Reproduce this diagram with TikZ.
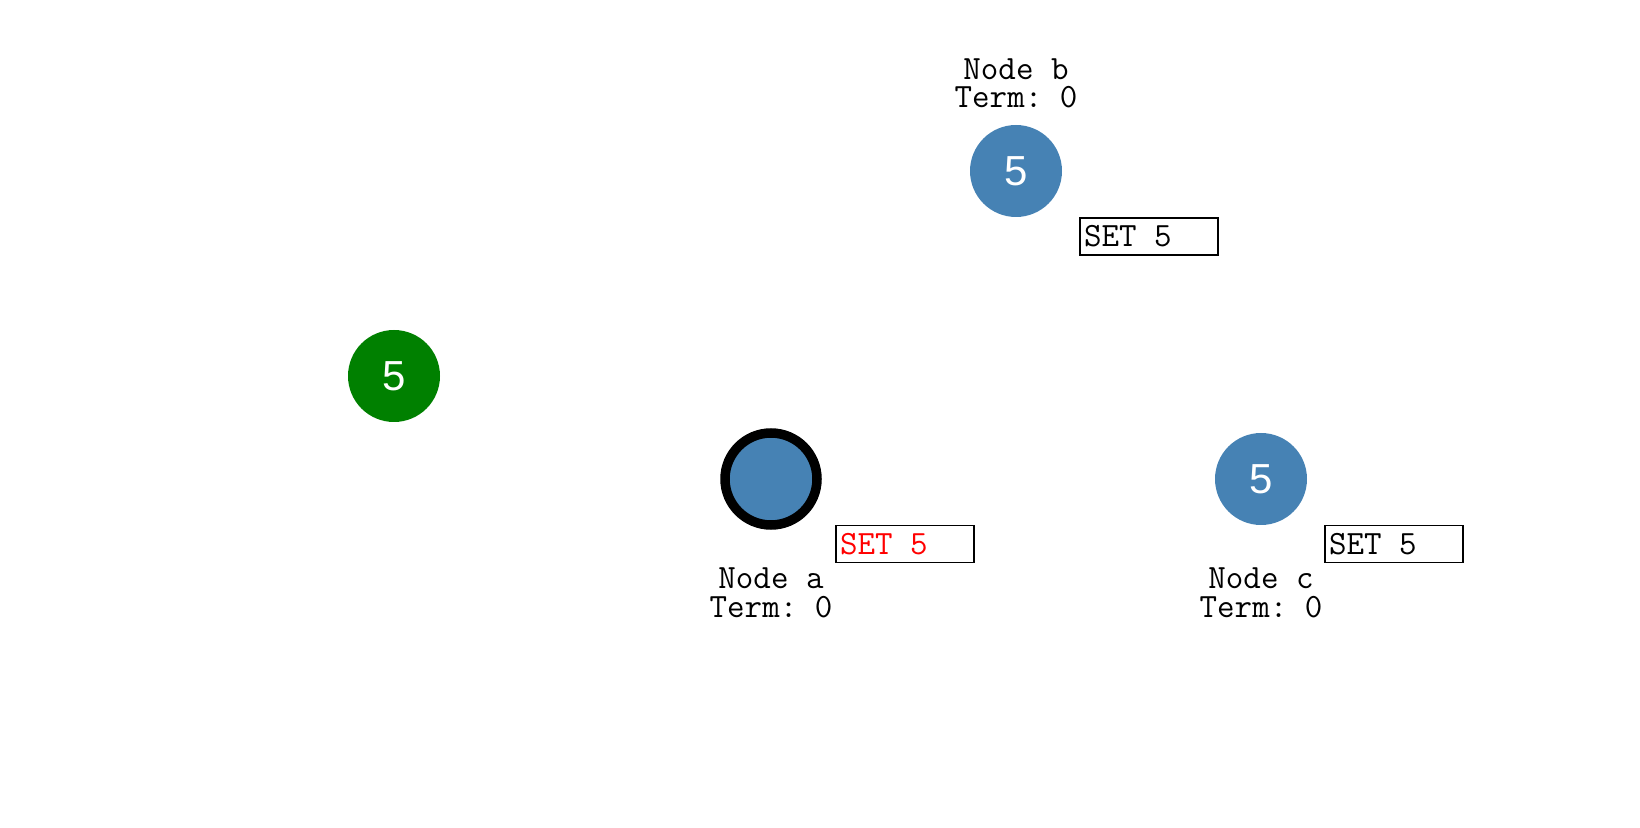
\documentclass[tikz,border=0pt]{standalone}
\usepackage{fontspec}
\setmainfont{Liberation Sans}

\definecolor{steelblue}{HTML}{4682B4}
\definecolor{clientgreen}{HTML}{008000}
\definecolor{wrongred}{HTML}{FF0000}

\begin{document}
\frenchspacing
\begin{tikzpicture}[x=0.5pt, y=-0.5pt,
        server/.style={circle, fill=steelblue, minimum size=46pt, inner sep=0pt,
            text=white, font=\fontsize{21}{21}\selectfont},
        leader/.style={server, draw=black, line width=4.75pt},
        client/.style={server, fill=clientgreen},
        setbox/.style={draw, line width=0.9pt, text width=65pt, inner xsep=2pt,
            minimum height=18.5pt, align=left, font=\ttfamily\fontsize{17}{14}\selectfont,
            execute at begin node={\spaceskip=0pt\xspaceskip=0pt}},
        caption/.style={inner sep=0pt, font=\ttfamily\fontsize{17}{14}\selectfont}]
        \useasboundingbox (0,0) rectangle (1640,828);

        % Client
        \node[client] (client) at (394,376) {5};

        % Node a (leader)
        \node[leader] (a) at (771,479) {};
        \node[setbox, text=wrongred] (seta) at (905,544) {SET 5};
        \node[caption] (namea) at (771,578) {Node a};
        \node[caption] (terma) at (771,607) {Term: 0};

        % Node b
        \node[server] (b) at (1016,171) {5};
        \node[setbox] (setb) at (1149,236.5) {SET 5};
        \node[caption] (nameb) at (1016,69) {Node b};
        \node[caption] (termb) at (1016,97) {Term: 0};

        % Node c
        \node[server] (c) at (1261,479) {5};
        \node[setbox] (setc) at (1394,544) {SET 5};
        \node[caption] (namec) at (1261,578) {Node c};
        \node[caption] (termc) at (1261,607) {Term: 0};
    \end{tikzpicture}
\end{document}
